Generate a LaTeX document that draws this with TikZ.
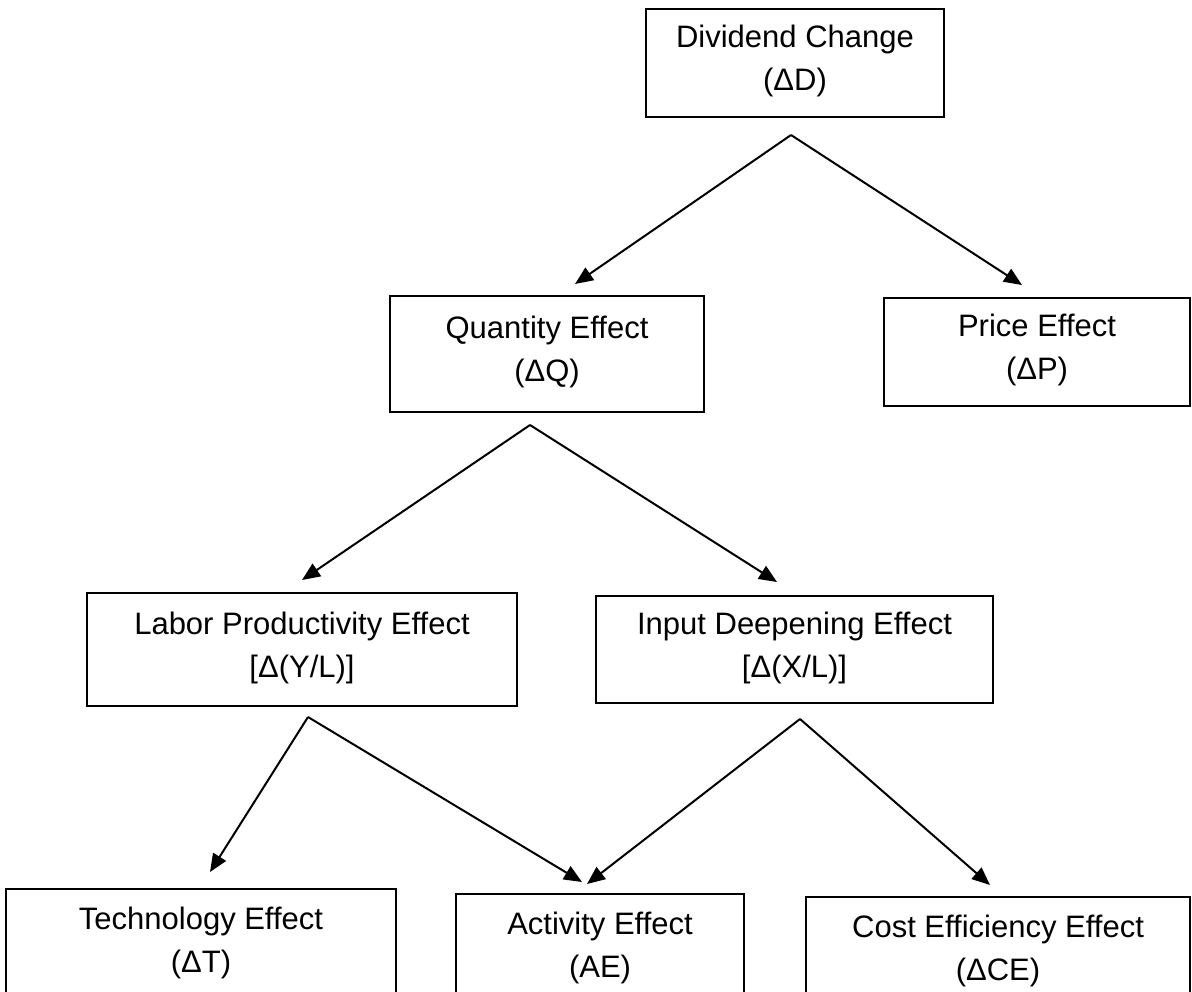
\documentclass[tikz,border=0pt]{standalone}
\usepackage{fontspec}
\setmainfont{Liberation Sans}
\usetikzlibrary{arrows.meta}

\newlength{\du}
\setlength{\du}{0.5pt}

\tikzset{
  effbox/.style={draw, line width=2\du, align=center, inner sep=0pt,
    font=\fontsize{15.5}{21.5}\selectfont,
    execute at end node={\rule[-5pt]{0pt}{0pt}}},
  effarrow/.style={line width=2\du, -{Triangle[length=9pt,width=7.5pt]}}
}

\begin{document}
\begin{tikzpicture}
\pgftransformxscale{1.000000}
\pgftransformyscale{-1.000000}
\useasboundingbox (0\du,0\du) rectangle (1192\du,991\du);

\node[effbox, minimum width=298\du, minimum height=108\du] (dc) at (795\du,63\du) {Dividend Change\\(ΔD)};
\node[effbox, minimum width=314\du, minimum height=116\du] (qe) at (547\du,354\du) {Quantity Effect\\(ΔQ)};
\node[effbox, minimum width=306\du, minimum height=108\du] (pe) at (1037\du,352\du) {Price Effect\\(ΔP)};
\node[effbox, minimum width=430\du, minimum height=113\du] (lp) at (302\du,649.5\du) {Labor Productivity Effect\\{}[Δ(Y/L)]};
\node[effbox, minimum width=397\du, minimum height=107\du] (id) at (794.5\du,649.5\du) {Input Deepening Effect\\{}[Δ(X/L)]};
%% bottom row runs off the page
\node[effbox, anchor=north, minimum width=390\du, minimum height=112\du] (te) at (201\du,888\du) {Technology Effect\\(ΔT)};
\node[effbox, anchor=north, minimum width=288\du, minimum height=112\du] (ae) at (600\du,893\du) {Activity Effect\\(AE)};
\node[effbox, anchor=north, minimum width=384\du, minimum height=112\du] (ce) at (998\du,896\du) {Cost Efficiency Effect\\(ΔCE)};

\coordinate (dcfork) at (791\du,135\du);
\coordinate (qetip) at (575\du,284\du);
\coordinate (petip) at (1022\du,285\du);
\coordinate (qefork) at (530\du,425\du);
\coordinate (lptip) at (302\du,580\du);
\coordinate (idtip) at (777\du,582\du);
\coordinate (lpfork) at (308\du,717\du);
\coordinate (tetip) at (210\du,872\du);
\coordinate (aetipl) at (582\du,882\du);
\coordinate (idfork) at (800\du,719\du);
\coordinate (aetipr) at (587\du,884\du);
\coordinate (cetip) at (990\du,885\du);

\draw[effarrow] (dcfork)--(qetip);
\draw[effarrow] (dcfork)--(petip);
\draw[effarrow] (qefork)--(lptip);
\draw[effarrow] (qefork)--(idtip);
\draw[effarrow] (lpfork)--(tetip);
\draw[effarrow] (lpfork)--(aetipl);
\draw[effarrow] (idfork)--(aetipr);
\draw[effarrow] (idfork)--(cetip);

\end{tikzpicture}
\end{document}
